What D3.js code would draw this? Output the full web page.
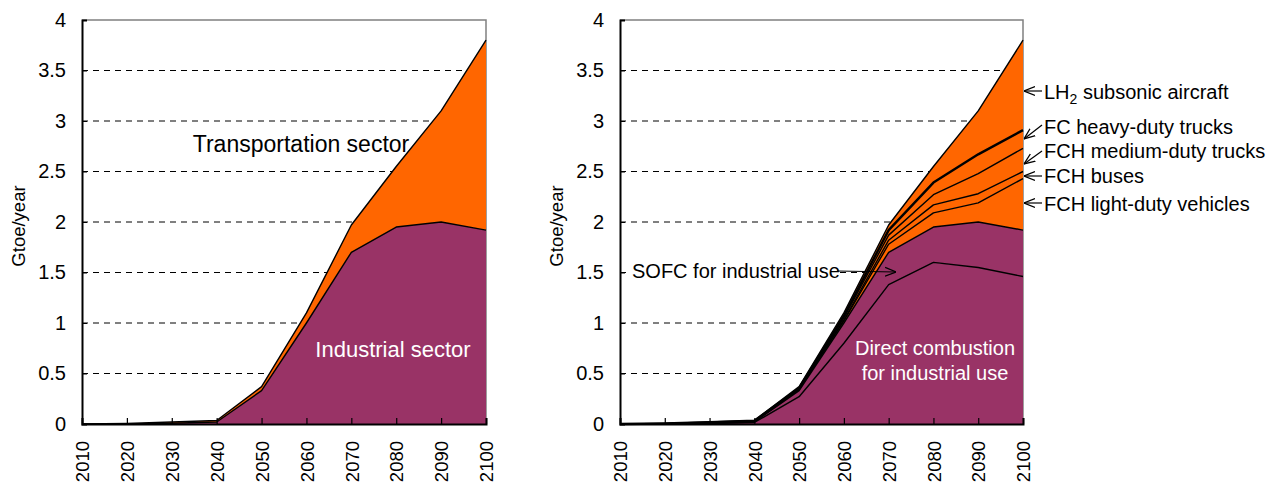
<!DOCTYPE html>
<html>
<head>
<meta charset="utf-8">
<script src="https://cdn.jsdelivr.net/npm/d3@7"></script>
<style>
  body { margin: 0; background: #fff; }
  text { font-family: "Liberation Sans", Arial, sans-serif; }
</style>
</head>
<body>
<svg id="chart" width="1277" height="487"></svg>
<script>
// years on x axis
var years = [2010, 2020, 2030, 2040, 2050, 2060, 2070, 2080, 2090, 2100];
var yTicks = [0, 0.5, 1, 1.5, 2, 2.5, 3, 3.5, 4];

// layers of the right chart, bottom to top (Gtoe/year)
var directCombustion = [0, 0, 0.005, 0.015, 0.27, 0.80, 1.38, 1.60, 1.55, 1.46];
var sofcIndustrial   = [0, 0, 0.003, 0.005, 0.06, 0.20, 0.32, 0.35, 0.45, 0.46];
var fchLightDuty     = [0, 0.002, 0.002, 0.005, 0.01, 0.02, 0.08, 0.14, 0.19, 0.51];
var fchBuses         = [0, 0.001, 0.002, 0.003, 0.005, 0.01, 0.04, 0.08, 0.09, 0.07];
var fchMediumDuty    = [0, 0.001, 0.003, 0.002, 0.005, 0.02, 0.05, 0.10, 0.20, 0.23];
var fcHeavyDuty      = [0, 0.001, 0.002, 0.002, 0.005, 0.02, 0.05, 0.12, 0.19, 0.18];
var lh2Aircraft      = [0, 0.001, 0.003, 0.003, 0.015, 0.03, 0.05, 0.16, 0.43, 0.89];

var purple = "#993366", orange = "#ff6600";

var svg = d3.select("#chart");

var y = d3.scaleLinear().domain([0, 4]).range([424, 20]);

// left chart: industrial vs transport sector
var industrial = years.map((d, i) => directCombustion[i] + sofcIndustrial[i]);
var transport = years.map((d, i) => fchLightDuty[i] + fchBuses[i] + fchMediumDuty[i] + fcHeavyDuty[i] + lh2Aircraft[i]);

var leftLayers = [
  { key: "ind", values: industrial, color: purple },
  { key: "tra", values: transport, color: orange }
];
var rightLayers = [
  { key: "direct", values: directCombustion, color: purple },
  { key: "sofc", values: sofcIndustrial, color: purple },
  { key: "ldv", values: fchLightDuty, color: orange },
  { key: "bus", values: fchBuses, color: orange },
  { key: "mdt", values: fchMediumDuty, color: orange },
  { key: "hdt", values: fcHeavyDuty, color: orange, thick: true },
  { key: "air", values: lh2Aircraft, color: orange }
];

var defs = svg.append("defs");
defs.append("marker")
  .attr("id", "arrow")
  .attr("viewBox", "0 0 10 10")
  .attr("refX", 10).attr("refY", 5)
  .attr("markerWidth", 11).attr("markerHeight", 11)
  .attr("markerUnits", "userSpaceOnUse")
  .attr("orient", "auto")
  .append("path")
  .attr("d", "M0,1 L10,5 L0,9")
  .attr("fill", "none")
  .attr("stroke", "black")
  .attr("stroke-width", 1.2);

function panel(x0, x1, layers) {
  var x = d3.scaleLinear().domain([2010, 2100]).range([x0, x1]);
  var g = svg.append("g");

  // grid
  g.append("g")
    .attr("class", "grid")
    .selectAll("line")
    .data(yTicks.filter(t => t > 0 && t < 4))
    .enter()
    .append("line")
    .attr("x1", x0).attr("x2", x1)
    .attr("y1", d => y(d)).attr("y2", d => y(d))
    .attr("stroke", "black")
    .attr("stroke-dasharray", "6,5");

  // frame top/right
  g.append("path")
    .attr("d", `M${x0},${y(4)}H${x1}V${y(0)}`)
    .attr("fill", "none")
    .attr("stroke", "#808080")
    .attr("stroke-width", 1.5);

  var table = years.map((yr, i) => {
    var row = { year: yr };
    layers.forEach(l => row[l.key] = l.values[i]);
    return row;
  });
  var series = d3.stack().keys(layers.map(l => l.key))(table);

  var area = d3.area()
    .x(d => x(d.data.year))
    .y0(d => y(d[0]))
    .y1(d => y(d[1]));
  var line = d3.line()
    .x(d => x(d.data.year))
    .y(d => y(d[1]));

  g.append("g")
    .selectAll("path")
    .data(series)
    .enter()
    .append("path")
    .attr("d", area)
    .attr("fill", (d, i) => layers[i].color);

  g.append("g")
    .selectAll("path")
    .data(series)
    .enter()
    .append("path")
    .attr("d", line)
    .attr("fill", "none")
    .attr("stroke", "black")
    .attr("stroke-linejoin", "round")
    .attr("stroke-width", (d, i) => layers[i].thick ? 2.4 : 1.4);

  // x axis
  var xAxis = g.append("g")
    .attr("transform", `translate(0,${y(0)})`)
    .call(d3.axisBottom(x).tickValues(years).tickSize(-6).tickFormat(d3.format("d")));
  xAxis.select(".domain").attr("stroke-width", 2);
  xAxis.selectAll(".tick line").attr("stroke-width", 1.2);
  xAxis.selectAll("text")
    .attr("transform", "rotate(-90)")
    .attr("text-anchor", "end")
    .attr("x", -17)
    .attr("y", 0)
    .attr("dy", "0.36em")
    .attr("font-size", 18.5)
    .attr("font-family", "Liberation Sans, Arial, sans-serif")
    .attr("fill", "black");

  // y axis
  var yAxis = g.append("g")
    .attr("transform", `translate(${x0},0)`)
    .call(d3.axisLeft(y).tickValues(yTicks).tickSize(-5).tickPadding(16).tickFormat(d => d));
  yAxis.select(".domain").attr("stroke-width", 2);
  yAxis.selectAll("text")
    .attr("font-size", 20)
    .attr("font-family", "Liberation Sans, Arial, sans-serif")
    .attr("fill", "black");

  g.append("text")
    .attr("transform", `translate(${x0 - 57},226) rotate(-90)`)
    .attr("text-anchor", "middle")
    .attr("font-size", 18.5)
    .text("Gtoe/year");

  return { g: g, x: x };
}

var left = panel(82, 486, leftLayers);
var right = panel(620, 1023, rightLayers);

// left annotations
left.g.append("text")
  .attr("x", 301).attr("y", 152)
  .attr("text-anchor", "middle")
  .attr("font-size", 23)
  .text("Transportation sector");
left.g.append("text")
  .attr("x", 393).attr("y", 357)
  .attr("text-anchor", "middle")
  .attr("font-size", 22)
  .attr("fill", "white")
  .text("Industrial sector");

// right annotations
right.g.append("text")
  .attr("x", 935).attr("y", 355)
  .attr("text-anchor", "middle")
  .attr("font-size", 20)
  .attr("fill", "white")
  .text("Direct combustion");
right.g.append("text")
  .attr("x", 935).attr("y", 380)
  .attr("text-anchor", "middle")
  .attr("font-size", 20)
  .attr("fill", "white")
  .text("for industrial use");

// SOFC label sits on a white box that hides the 1.5 gridline
right.g.append("rect")
  .attr("x", 626).attr("y", 261)
  .attr("width", 211).attr("height", 21)
  .attr("fill", "white");
right.g.append("text")
  .attr("x", 632).attr("y", 278)
  .attr("font-size", 20)
  .text("SOFC for industrial use");
right.g.append("line")
  .attr("x1", 837).attr("y1", 271)
  .attr("x2", 896).attr("y2", 272)
  .attr("stroke", "black")
  .attr("stroke-width", 1.2)
  .attr("marker-end", "url(#arrow)");

var labels = [
  { text: "LH", sub: "2", rest: " subsonic aircraft", ty: 99, from: 91, to: 91 },
  { text: "FC heavy-duty trucks", ty: 134, from: 125, to: 139 },
  { text: "FCH medium-duty trucks", ty: 158, from: 151, to: 164 },
  { text: "FCH buses", ty: 183, from: 176, to: 176 },
  { text: "FCH light-duty vehicles", ty: 211, from: 203, to: 203 }
];
labels.forEach(l => {
  var t = right.g.append("text")
    .attr("x", 1044).attr("y", l.ty)
    .attr("font-size", 20);
  t.append("tspan").text(l.text);
  if (l.sub) {
    t.append("tspan").attr("dy", 5).attr("font-size", 14).text(l.sub);
    t.append("tspan").attr("dy", -5).text(l.rest);
  }
  right.g.append("line")
    .attr("x1", 1042).attr("y1", l.from)
    .attr("x2", 1024).attr("y2", l.to)
    .attr("stroke", "black")
    .attr("stroke-width", 1.2)
    .attr("marker-end", "url(#arrow)");
});
</script>
</body>
</html>
